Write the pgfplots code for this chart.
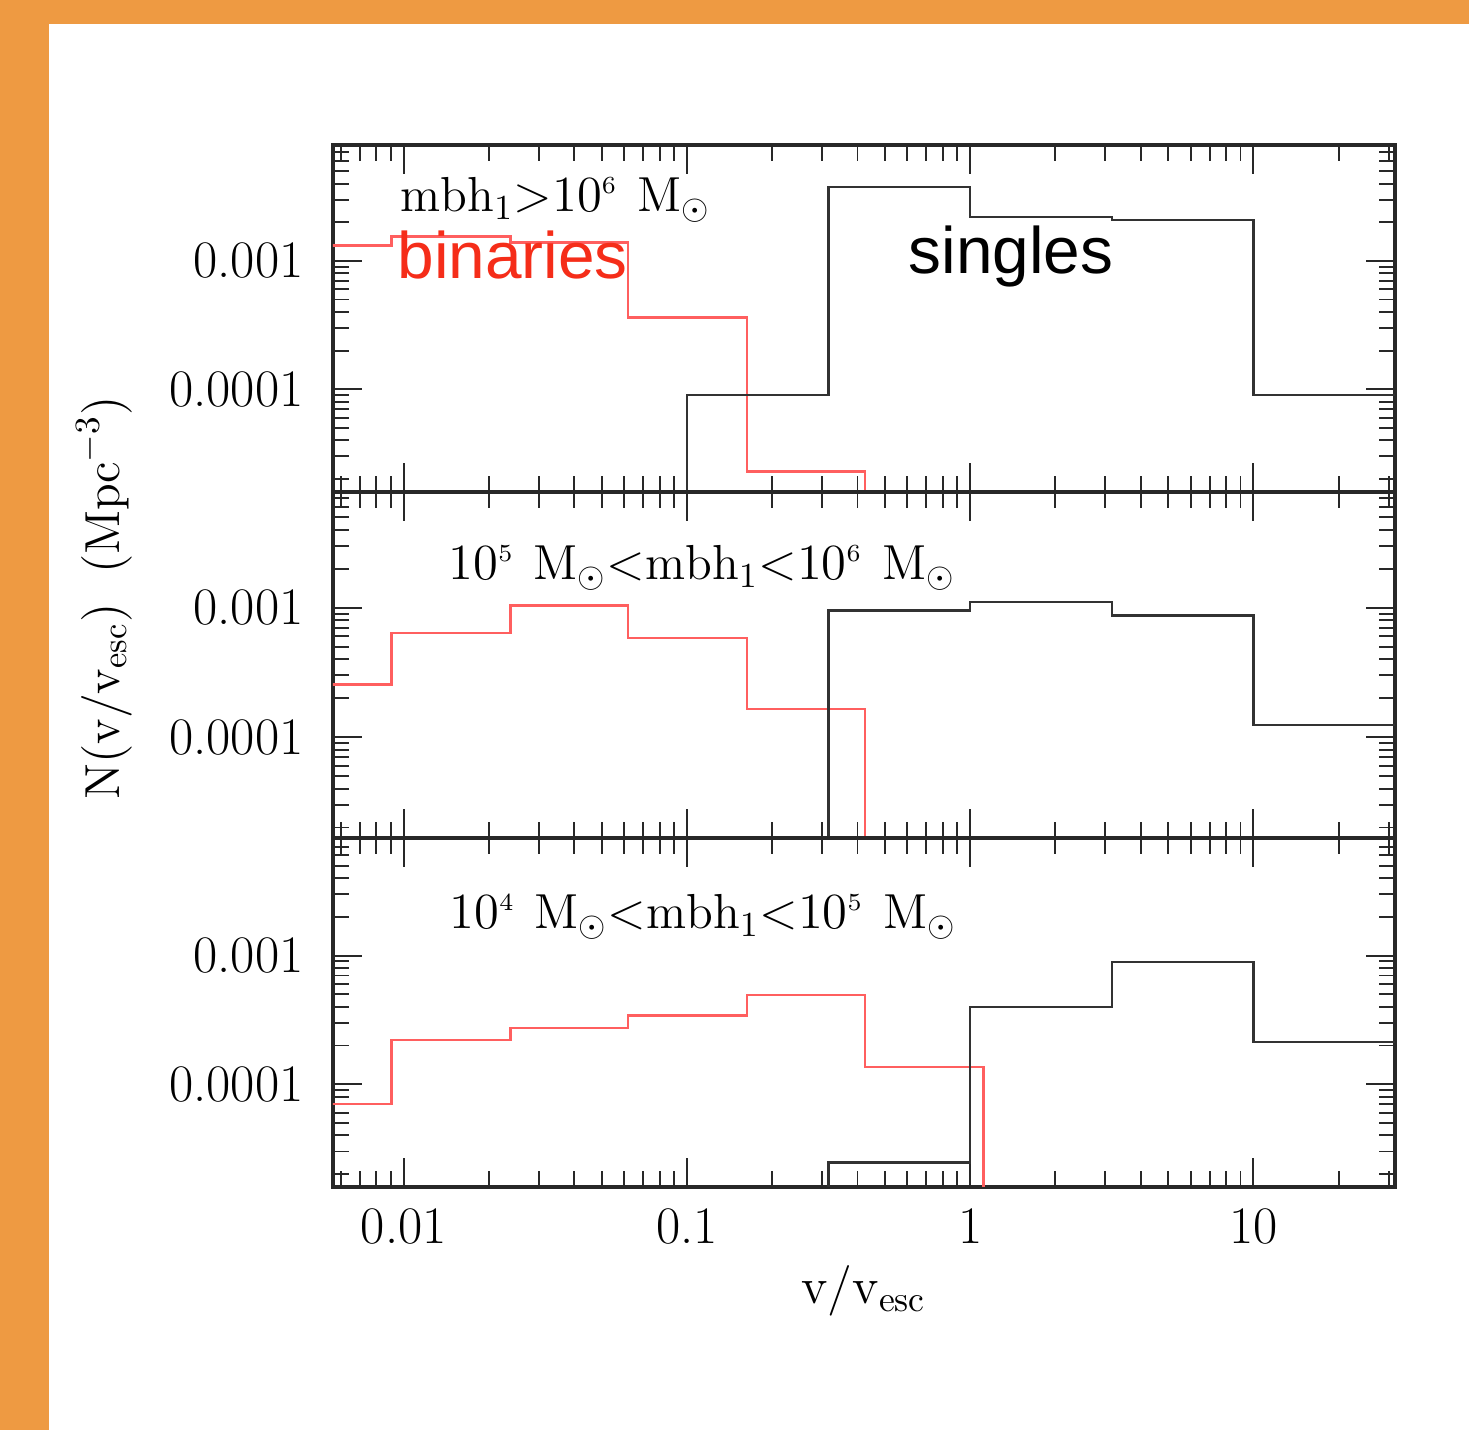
\documentclass[border=0pt]{standalone}
\usepackage{pgfplots}
\pgfplotsset{compat=1.18}
\usepackage{fontspec}
\newfontfamily\arialf{Liberation Sans}
\definecolor{bgorange}{RGB}{238,154,66}
\definecolor{histred}{RGB}{255,95,95}
\definecolor{txtred}{RGB}{245,45,25}
\definecolor{framecol}{RGB}{40,40,40}
\definecolor{histblack}{RGB}{50,50,50}
\newcommand\msun{\mathrm{M}_\odot}
\pgfplotsset{
  mypanel/.style={
    scale only axis, width=10.62cm,
    xmin=0.005623, xmax=31.62,
    anchor=south west,
    axis line style={framecol, line width=0.9pt},
    tick style={framecol, line width=0.55pt},
    major tick length=2.9mm, minor tick length=1.6mm,
    xtick pos=both, ytick pos=both,
    xtick={0.01,0.1,1,10},
    minor xtick={0.006,0.007,0.008,0.009,0.02,0.03,0.04,0.05,0.06,0.07,0.08,0.09,0.2,0.3,0.4,0.5,0.6,0.7,0.8,0.9,2,3,4,5,6,7,8,9,20,30},
    ytick={1e-4,1e-3},
    yticklabels={0.0001,0.001},
    minor ytick={2e-5,3e-5,4e-5,5e-5,6e-5,7e-5,8e-5,9e-5,2e-4,3e-4,4e-4,5e-4,6e-4,7e-4,8e-4,9e-4,2e-3,3e-3,4e-3,5e-3,6e-3,7e-3},
    ticklabel style={font=\fontsize{15}{17}\selectfont},
    yticklabel style={xshift=-1.7mm},
    xticklabel style={yshift=-0.9mm},
  },
}
\tikzset{
  hR/.style={histred, const plot, mark=none, line width=0.65pt},
  hB/.style={histblack, const plot, mark=none, line width=0.65pt},
}
\begin{document}
\begin{tikzpicture}
\useasboundingbox (0,0) rectangle (14.69,14.30);
\fill[bgorange] (0,0) rectangle (14.69,14.30);
\fill[white] (0.49,0) rectangle (14.69,14.06);

% top panel
\begin{loglogaxis}[mypanel, at={(3.33cm,9.38cm)}, height=3.47cm, ymin=1.58e-5, ymax=8.0e-3, xticklabels={}]
\addplot[hR] coordinates {(0.00344,1.32e-3) (0.00905,1.55e-3) (0.0238,1.39e-3) (0.0620,3.61e-4) (0.1625,2.28e-5) (0.425,1e-8) (1,1e-8)};
\addplot[hB] coordinates {(0.0316,1e-8) (0.1,9.0e-5) (0.316,3.75e-3) (1,2.19e-3) (3.16,2.09e-3) (10,9.0e-5) (31.62,9.0e-5)};
\end{loglogaxis}

% middle panel
\begin{loglogaxis}[mypanel, at={(3.33cm,5.92cm)}, height=3.46cm, ymin=1.66e-5, ymax=7.85e-3, xticklabels={}]
\addplot[hR] coordinates {(0.00344,2.55e-4) (0.00905,6.41e-4) (0.0238,1.04e-3) (0.0620,5.82e-4) (0.1625,1.64e-4) (0.425,1e-8) (1,1e-8)};
\addplot[hB] coordinates {(0.1,1e-8) (0.316,9.5e-4) (1,1.106e-3) (3.16,8.72e-4) (10,1.24e-4) (31.62,1.24e-4)};
\end{loglogaxis}

% bottom panel
\begin{loglogaxis}[mypanel, at={(3.33cm,2.43cm)}, height=3.49cm, ymin=1.59e-5, ymax=8.2e-3, xticklabels={0.01,0.1,1,10}]
\addplot[hR] coordinates {(0.00344,7.0e-5) (0.00905,2.22e-4) (0.0238,2.74e-4) (0.0620,3.43e-4) (0.1625,4.94e-4) (0.425,1.36e-4) (1.115,1e-8) (3,1e-8)};
\addplot[hB] coordinates {(0.1,1e-8) (0.316,2.46e-5) (1,3.99e-4) (3.16,8.88e-4) (10,2.12e-4) (31.62,2.12e-4)};
\end{loglogaxis}

% panel labels
\node[anchor=base west, inner sep=0, font=\fontsize{14}{17}\selectfont] at (4.00,12.18) {$\mathrm{mbh}_1{>}10^{\scriptscriptstyle 6}\hspace{0.4em}\msun$};
\node[anchor=base west, inner sep=0, font=\fontsize{14}{17}\selectfont] at (4.48,8.50) {$10^{\scriptscriptstyle 5}\hspace{0.4em}\msun{<}\mathrm{mbh}_1{<}10^{\scriptscriptstyle 6}\hspace{0.4em}\msun$};
\node[anchor=base west, inner sep=0, font=\fontsize{14}{17}\selectfont] at (4.49,5.01) {$10^{\scriptscriptstyle 4}\hspace{0.4em}\msun{<}\mathrm{mbh}_1{<}10^{\scriptscriptstyle 5}\hspace{0.4em}\msun$};

\node[anchor=base west, inner sep=0, text=txtred, font=\arialf\fontsize{18.7}{22}\selectfont] at (3.97,11.51) {binaries};
\node[anchor=base west, inner sep=0, text=black, font=\arialf\fontsize{18.7}{22}\selectfont] at (9.08,11.56) {singles};

% axis labels
\node[anchor=base, inner sep=0, font=\fontsize{14.5}{17}\selectfont] at (8.64,1.26) {$\mathrm{v}/\mathrm{v}_{\mathrm{esc}}$};
\node[rotate=90, anchor=center, inner sep=0, font=\fontsize{14}{17}\selectfont] at (1.04,8.32) {$\mathrm{N}(\mathrm{v}/\mathrm{v}_{\mathrm{esc}})\hspace{0.6em}(\mathrm{Mpc}^{-3})$};
\end{tikzpicture}
\end{document}
